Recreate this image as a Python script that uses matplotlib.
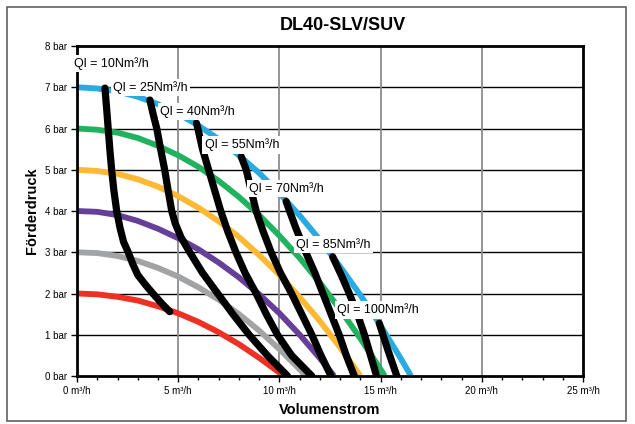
import matplotlib
matplotlib.use('Agg')
import matplotlib.pyplot as plt
from matplotlib.patches import Rectangle
from matplotlib.ticker import MultipleLocator, FuncFormatter

plt.rcParams['font.family'] = ['Liberation Sans', 'DejaVu Sans']

# pump curves (Förderdruck in bar over Volumenstrom in m³/h)
red_x = [0, 1, 2, 3, 4, 5, 6, 7, 8, 9, 10, 10.2]
red_y = [2.0, 1.98, 1.92, 1.83, 1.69, 1.52, 1.31, 1.06, 0.77, 0.44, 0.08, 0]
gray_x = [0, 1, 2, 3, 4, 5, 6, 7, 8, 9, 10, 11, 11.3]
gray_y = [3.0, 2.98, 2.91, 2.79, 2.62, 2.41, 2.15, 1.85, 1.50, 1.10, 0.65, 0.16, 0]
purple_x = [0, 1, 2, 3, 4, 5, 6, 7, 8, 9, 10, 11, 12, 12.7]
purple_y = [4.0, 3.98, 3.90, 3.76, 3.57, 3.34, 3.07, 2.75, 2.39, 1.98, 1.52, 1.00, 0.43, 0]
yellow_x = [0, 1, 2, 3, 4, 5, 6, 7, 8, 9, 10, 11, 12, 13, 14.0]
yellow_y = [5.0, 4.97, 4.90, 4.77, 4.59, 4.36, 4.08, 3.75, 3.37, 2.93, 2.45, 1.91, 1.33, 0.69, 0]
green_x = [0, 1, 2, 3, 4, 5, 6, 7, 8, 9, 10, 11, 12, 13, 14, 15, 15.2]
green_y = [6.0, 5.97, 5.90, 5.77, 5.58, 5.35, 5.07, 4.73, 4.34, 3.90, 3.40, 2.86, 2.26, 1.61, 0.91, 0.16, 0]
blue_x = [0, 1, 2, 3, 4, 5, 6, 7, 8, 9, 10, 11, 12, 13, 14, 15, 16, 16.5]
blue_y = [7.0, 6.97, 6.90, 6.77, 6.59, 6.36, 6.07, 5.74, 5.35, 4.92, 4.43, 3.89, 3.30, 2.65, 1.96, 1.22, 0.42, 0]

# air consumption lines
ql10_x = [1.38, 1.46, 1.54, 1.62, 1.71, 1.82, 1.96, 2.12, 2.30, 2.53, 2.75, 3.00, 3.40, 3.80, 4.20, 4.58]
ql10_y = [6.98, 6.50, 6.00, 5.50, 5.00, 4.50, 4.00, 3.60, 3.25, 3.00, 2.72, 2.45, 2.20, 1.97, 1.75, 1.56]
ql25_x = [3.60, 3.76, 3.94, 4.13, 4.33, 4.50, 4.68, 4.85, 5.15, 5.57, 6.20, 6.95, 7.70, 8.50, 9.40, 10.4]
ql25_y = [6.69, 6.35, 6.00, 5.50, 5.00, 4.50, 4.00, 3.70, 3.35, 3.00, 2.50, 2.00, 1.50, 1.00, 0.50, 0]
ql40_x = [5.90, 5.97, 6.20, 6.50, 6.80, 7.10, 7.45, 7.85, 8.30, 8.85, 9.35, 9.90, 10.60, 11.6]
ql40_y = [6.13, 6.00, 5.50, 5.00, 4.50, 4.00, 3.50, 3.00, 2.50, 2.00, 1.50, 1.00, 0.50, 0]
ql55_x = [8.11, 8.36, 8.60, 8.85, 9.20, 9.59, 10.05, 10.60, 11.10, 11.60, 12.05, 12.55]
ql55_y = [5.32, 5.00, 4.50, 4.00, 3.50, 3.00, 2.50, 2.00, 1.50, 1.00, 0.50, 0]
ql70_x = [10.33, 10.80, 11.30, 11.75, 12.15, 12.55, 12.95, 13.30, 13.70]
ql70_y = [4.23, 3.60, 3.00, 2.50, 2.00, 1.50, 1.00, 0.50, 0]
ql85_x = [12.63, 13.05, 13.45, 13.85, 14.20, 14.50, 14.80]
ql85_y = [2.89, 2.45, 2.00, 1.50, 1.00, 0.50, 0]
ql100_x = [14.93, 15.35, 15.80]
ql100_y = [1.28, 0.64, 0]

ql_names = ['Ql = 10Nm³/h', 'Ql = 25Nm³/h', 'Ql = 40Nm³/h', 'Ql = 55Nm³/h',
            'Ql = 70Nm³/h', 'Ql = 85Nm³/h', 'Ql = 100Nm³/h']
label_pos = [(-0.15, 7.58), (1.77, 6.99), (4.09, 6.42), (6.30, 5.60),
             (8.52, 4.55), (10.84, 3.18), (12.86, 1.60)]

fig = plt.figure(figsize=(6.35, 4.24), dpi=100)
ax = fig.add_axes([0.1213, 0.1132, 0.7969, 0.7783])

pumps = [(red_x, red_y, '#ee3124'), (gray_x, gray_y, '#a1a3a5'),
         (purple_x, purple_y, '#653f98'), (yellow_x, yellow_y, '#fdb934'),
         (green_x, green_y, '#21b25f'), (blue_x, blue_y, '#29abe2')]
for px, py, c in pumps:
    ax.plot(px, py, color=c, lw=4.2, solid_capstyle='butt', solid_joinstyle='round', zorder=3)

qls = [(ql10_x, ql10_y), (ql25_x, ql25_y), (ql40_x, ql40_y), (ql55_x, ql55_y),
       (ql70_x, ql70_y), (ql85_x, ql85_y), (ql100_x, ql100_y)]
for qx, qy in qls:
    ax.plot(qx, qy, color='black', lw=5.2, solid_capstyle='round',
            solid_joinstyle='round', zorder=4)

for name, (lx, ly) in zip(ql_names, label_pos):
    ax.text(lx, ly, name, fontsize=9, ha='left', va='center', zorder=6, clip_on=False,
            bbox=dict(facecolor='white', edgecolor='none', pad=1.5))

ax.set_xlim(0, 25)
ax.set_ylim(0, 8)
ax.xaxis.set_major_locator(MultipleLocator(5))
ax.xaxis.set_minor_locator(MultipleLocator(1))
ax.yaxis.set_major_locator(MultipleLocator(1))
ax.xaxis.set_major_formatter(FuncFormatter(lambda v, p: '%d m³/h' % v))
ax.yaxis.set_major_formatter(FuncFormatter(lambda v, p: '%d bar' % v))
ax.tick_params(axis='both', which='major', labelsize=7, length=4, width=1, direction='out')
ax.tick_params(axis='x', which='minor', length=3, width=1, direction='out')
ax.tick_params(axis='x', pad=3)
ax.tick_params(axis='y', pad=3)

for v in range(1, 8):
    ax.axhline(v, color='black', lw=1.0, zorder=1)
for v in range(5, 25, 5):
    ax.axvline(v, color='#8c8c8c', lw=1.3, zorder=1)

for s in ax.spines.values():
    s.set_linewidth(2)
    s.set_color('black')
    s.set_zorder(5)

ax.set_xlabel('Volumenstrom', fontsize=10.5, fontweight='bold', labelpad=5)
ax.set_ylabel('Förderdruck', fontsize=10.5, fontweight='bold', labelpad=4)
fig.text(0.540, 0.941, 'DL40-SLV/SUV', fontsize=13, fontweight='bold', ha='center', va='center')

fig.add_artist(Rectangle((0.011, 0.007), 0.9748, 0.9764, transform=fig.transFigure,
                         fill=False, edgecolor='#606060', lw=1.2))

fig.savefig('out.png', dpi=100)
